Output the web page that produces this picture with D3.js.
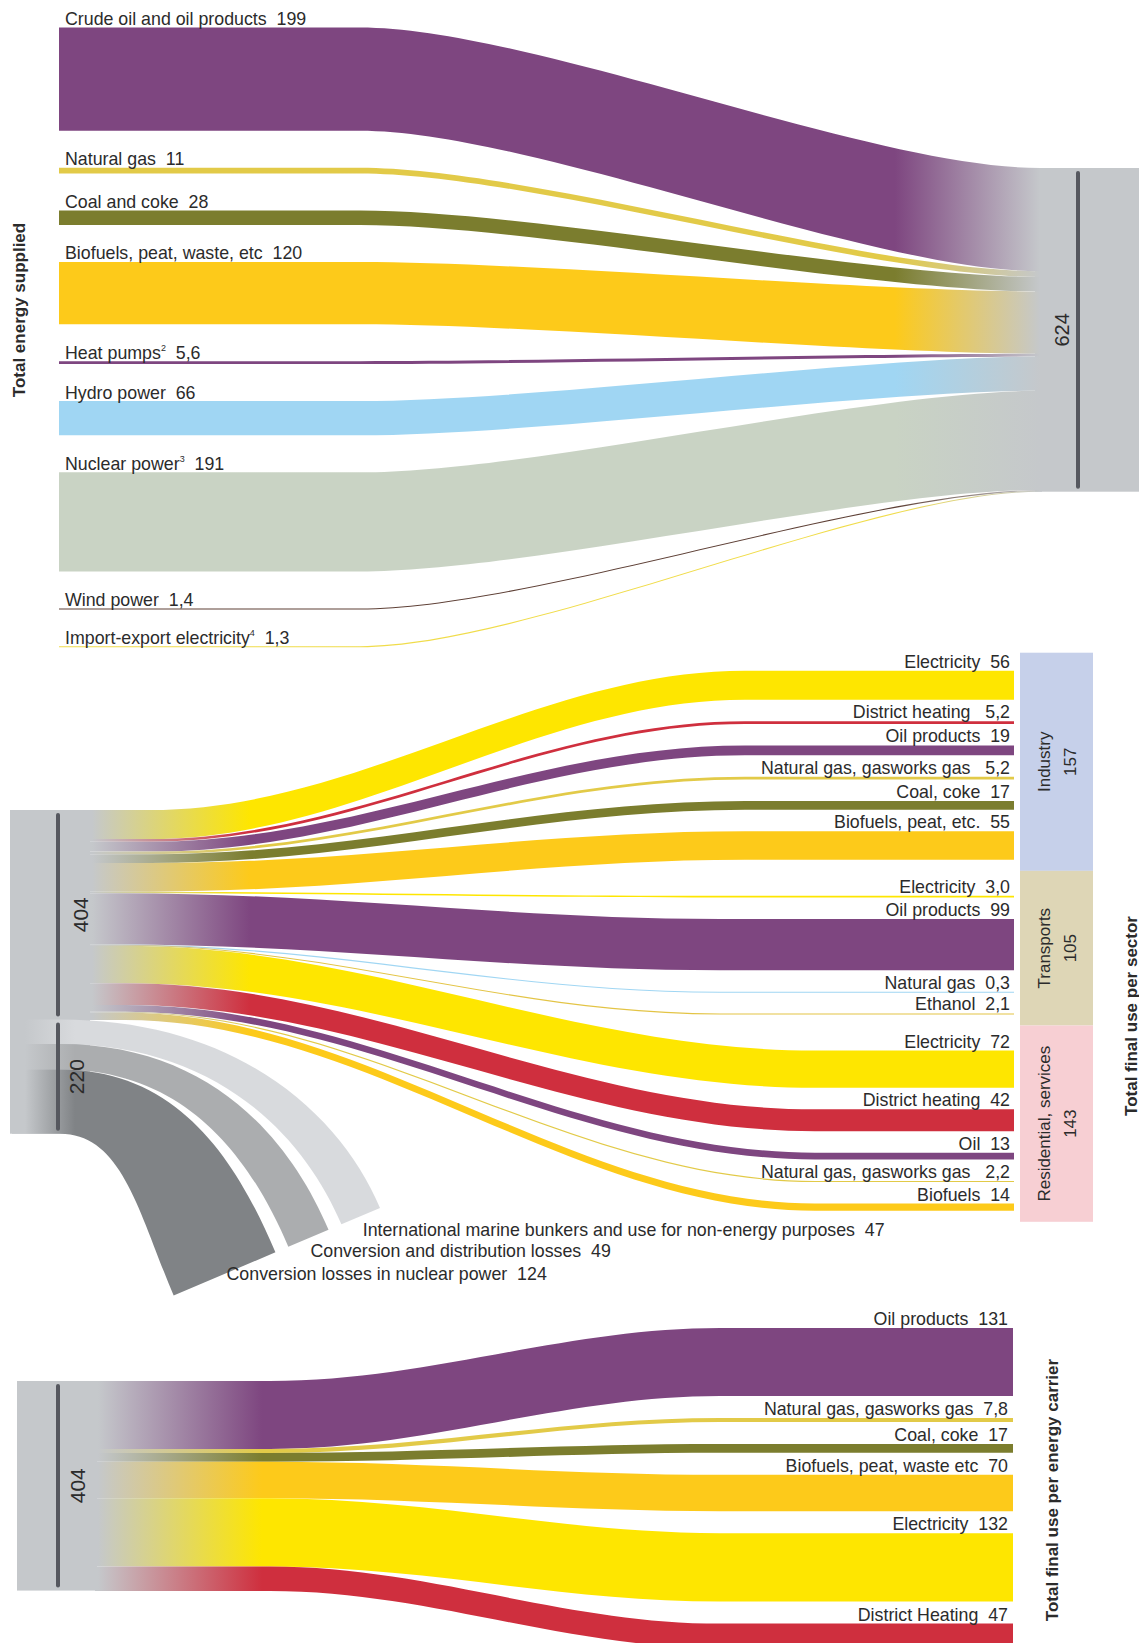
<!DOCTYPE html>
<html><head><meta charset="utf-8">
<script src="https://cdn.jsdelivr.net/npm/d3@7"></script>
<style>
html,body{margin:0;padding:0;background:#fff;}
svg{display:block;font-family:"Liberation Sans",Arial,Helvetica,sans-serif;}
text{fill:#2b2b2b;white-space:pre;}
</style></head><body>
<svg id="chart" width="1139" height="1643"></svg>
<script>
// ---------- DATA (TWh) ----------
const supplyNames  = ["Crude oil and oil products","Natural gas","Coal and coke","Biofuels, peat, waste, etc","Heat pumps","Hydro power","Nuclear power","Wind power","Import-export electricity"];
const supplyNotes  = ["","","","","2","","3","","4"];
const supplyValues = [199, 11, 28, 120, 5.6, 66, 191, 1.4, 1.3];
const totalSupplied = 624;

const sectorNames  = ["Industry","Transports","Residential, services"];
const sectorTotals = [157, 105, 143];
const sectorCarriers = [
  ["Electricity","District heating","Oil products","Natural gas, gasworks gas","Coal, coke","Biofuels, peat, etc."],
  ["Electricity","Oil products","Natural gas","Ethanol"],
  ["Electricity","District heating","Oil","Natural gas, gasworks gas","Biofuels"]
];
const sectorValues = [
  [56, 5.2, 19, 5.2, 17, 55],
  [3.0, 99, 0.3, 2.1],
  [72, 42, 13, 2.2, 14]
];
const finalUse  = 404;
const lossTotal = 220;
const lossNames  = ["International marine bunkers and use for non-energy purposes","Conversion and distribution losses","Conversion losses in nuclear power"];
const lossValues = [47, 49, 124];

const carrierNames  = ["Oil products","Natural gas, gasworks gas","Coal, coke","Biofuels, peat, waste etc","Electricity","District Heating"];
const carrierValues = [131, 7.8, 17, 70, 132, 47];

const axisTitles = ["Total energy supplied","Total final use per sector","Total final use per energy carrier"];

// ---------- STYLES ----------
const C = {oil:"#7e4680", gas:"#e2ca48", coal:"#7b7d2e", bio:"#fdca1a", hydro:"#a0d6f3",
  nuclear:"#c9d3c4", wind:"#5e4036", imp:"#f0dc4a", elec:"#fee600", dh:"#cf2f3e", eth:"#e3c445"};
const supplyColors = [C.oil, C.gas, C.coal, C.bio, C.oil, C.hydro, C.nuclear, C.wind, C.imp];
const sectorColors = [[C.elec, C.dh, C.oil, C.gas, C.coal, C.bio],[C.elec, C.oil, C.hydro, C.eth],[C.elec, C.dh, C.oil, C.gas, C.bio]];
const sectorBoxColors = ["#c6d0ea","#ded6b6","#f7cfd3"];
const lossColors = ["#d8dadd","#abadaf","#808386"];
const carrierColors = [C.oil, C.gas, C.coal, C.bio, C.elec, C.dh];
const GRAY = "#c5c8cb", LINE = "#56585f";

// ---------- SETUP ----------
const svg = d3.select("#chart");
const defs = svg.append("defs");
const k = d3.scaleLinear().domain([0, totalSupplied]).range([0, 323.7]);
const fmt = v => v < 10 ? d3.format(".1f")(v).replace(".", ",") : d3.format("d")(v);
const FS = 17.8, TITLE_FS = 17;

function bandPath(x0, yL, cA, cB, x1, yR, t, c) {
  const w = cB - cA, p = d3.path();
  p.moveTo(x0, yL); p.lineTo(cA, yL);
  p.bezierCurveTo(cA + c*w, yL, cB - c*w, yR, cB, yR);
  p.lineTo(x1, yR); p.lineTo(x1, yR + t); p.lineTo(cB, yR + t);
  p.bezierCurveTo(cB - c*w, yR + t, cA + c*w, yL + t, cA, yL + t);
  p.lineTo(x0, yL + t); p.closePath();
  return p.toString();
}
let gid = 0;
function grad(xa, xb, c1, c2) {
  const id = "g" + (gid++);
  const g = defs.append("linearGradient").attr("id", id).attr("gradientUnits","userSpaceOnUse")
    .attr("x1", xa).attr("x2", xb).attr("y1", 0).attr("y2", 0);
  g.append("stop").attr("offset", 0).attr("stop-color", c1);
  g.append("stop").attr("offset", 1).attr("stop-color", c2);
  return `url(#${id})`;
}
const vis = t => Math.max(t, 1.1);
function vLine(x, y0, y1) {
  svg.append("line").attr("x1", x).attr("x2", x).attr("y1", y0).attr("y2", y1)
    .attr("stroke", LINE).attr("stroke-width", 4).attr("stroke-linecap", "round");
}
function vLabel(x, y, txt, size, bold) {
  svg.append("text").attr("transform", `translate(${x},${y}) rotate(-90)`)
    .attr("text-anchor", "middle").attr("dominant-baseline", "central")
    .attr("font-size", size).attr("font-weight", bold ? "bold" : "normal").text(txt);
}

// ---------- TOP: TOTAL ENERGY SUPPLIED ----------
const topL = {x0: 59, cA: 360, cB: 1040, x1: 1042, y0: 27.5, gap: 37, boxY: 168, boxX: 1035, fadeA: 895, fadeB: 1040};
const supply = supplyNames.map((n, i) => ({name: n, note: supplyNotes[i], v: supplyValues[i], color: supplyColors[i]}));
{
  let yL = topL.y0, yR = topL.boxY;
  supply.forEach(d => { d.t = k(d.v); d.yL = yL; d.yR = yR; yL += d.t + topL.gap; yR += d.t; });
}
svg.append("rect").attr("x", topL.boxX).attr("y", topL.boxY).attr("width", 1139 - topL.boxX)
  .attr("height", k(totalSupplied)).attr("fill", GRAY);
svg.append("g").selectAll("path").data(supply).join("path")
  .attr("d", d => bandPath(topL.x0, d.yL, topL.cA, topL.cB, topL.x1, d.yR, vis(d.t), 0.25))
  .attr("fill", d => grad(topL.fadeA, topL.fadeB, d.color, GRAY));
const tl = svg.append("g").selectAll("text").data(supply).join("text")
  .attr("x", 65).attr("y", d => d.yL - 2.5).attr("font-size", FS);
tl.each(function(d) {
  const s = d3.select(this);
  s.append("tspan").text(d.name);
  if (d.note) {
    s.append("tspan").attr("font-size", 9).attr("dy", -8).text(d.note);
    s.append("tspan").attr("dy", 8).text("  " + fmt(d.v));
  } else s.append("tspan").text("  " + fmt(d.v));
});
vLine(1078, topL.boxY + 5, topL.boxY + k(totalSupplied) - 5);
vLabel(1062, topL.boxY + k(totalSupplied) / 2, String(totalSupplied), 20, false);
vLabel(19, 310, axisTitles[0], TITLE_FS, true);

// ---------- MIDDLE: FINAL USE PER SECTOR ----------
const mid = {boxX: 10, boxW: 80, x0: 86, x1: 1014, yL0: 810, yR0: 670.7, gap: 21.5, groupGap: 36,
  fadeA: 92, fadeB: 250, labelX: 1010, sbX: 1020, sbW: 73,
  curves: [[150, 745], [120, 720], [125, 815]]};
const links = [];
{
  let yL = mid.yL0, yR = mid.yR0;
  sectorValues.forEach((vals, g) => {
    if (g > 0) yR += mid.groupGap - mid.gap;
    vals.forEach((v, j) => {
      const t = k(v);
      links.push({g, name: sectorCarriers[g][j], v, t, yL, yR, color: sectorColors[g][j]});
      yL += t; yR += t + mid.gap;
    });
  });
}
const midBoxH = k(finalUse) + k(lossTotal);
svg.append("rect").attr("x", mid.boxX).attr("y", mid.yL0).attr("width", mid.boxW).attr("height", midBoxH).attr("fill", GRAY);

// sector boxes
const sBoxes = sectorNames.map((n, g) => {
  const ls = links.filter(l => l.g === g);
  return {name: n, total: sectorTotals[g], first: ls[0], last: ls[ls.length - 1], color: sectorBoxColors[g]};
});
sBoxes.forEach((b, g) => {
  b.y0 = g === 0 ? b.first.yR - 18 : sBoxes[g - 1].y1;
  b.y1 = b.last.yR + b.last.t + 11;
});
svg.append("g").selectAll("rect").data(sBoxes).join("rect")
  .attr("x", mid.sbX).attr("y", d => d.y0).attr("width", mid.sbW).attr("height", d => d.y1 - d.y0).attr("fill", d => d.color);
sBoxes.forEach(b => {
  const cy = (b.y0 + b.y1) / 2, cx = mid.sbX + mid.sbW / 2;
  vLabel(cx - 12, cy, b.name, 17, false);
  vLabel(cx + 14, cy, String(b.total), 17, false);
});

// loss arcs
const arc = {x0: 12, xs: 60, cut: [380, 1208], dir: [-0.92, 0.39], trav: [0.39, 0.92], spread: 1.72, gap: 14};
const losses = lossNames.map((n, i) => ({name: n, v: lossValues[i], color: lossColors[i]}));
{
  let y = mid.yL0 + k(finalUse), s = 0;
  losses.forEach(d => {
    d.t = k(d.v); d.y0 = y; d.y1 = y + d.t; y += d.t;
    d.s0 = s; d.s1 = s + arc.spread * d.t; s = d.s1 + arc.gap;
    d.E0 = [arc.cut[0] + d.s0 * arc.dir[0], arc.cut[1] + d.s0 * arc.dir[1]];
    d.E1 = [arc.cut[0] + d.s1 * arc.dir[0], arc.cut[1] + d.s1 * arc.dir[1]];
  });
}
function arcPath(d) {
  const p = d3.path(), xs = arc.xs, T = arc.trav;
  const a0 = 0.55 * (d.E0[0] - xs), b0 = 0.55 * (d.E0[1] - d.y0);
  const a1 = 0.55 * (d.E1[0] - xs), b1 = 0.55 * (d.E1[1] - d.y1);
  p.moveTo(arc.x0, d.y0); p.lineTo(xs, d.y0);
  p.bezierCurveTo(xs + a0, d.y0, d.E0[0] - b0 * T[0], d.E0[1] - b0 * T[1], d.E0[0], d.E0[1]);
  p.lineTo(d.E1[0], d.E1[1]);
  p.bezierCurveTo(d.E1[0] - b1 * T[0], d.E1[1] - b1 * T[1], xs + a1, d.y1, xs, d.y1);
  p.lineTo(arc.x0, d.y1); p.closePath();
  return p.toString();
}
svg.append("g").selectAll("path").data(losses).join("path")
  .attr("d", arcPath).attr("fill", d => grad(25, 75, GRAY, d.color));
svg.append("g").selectAll("text").data(losses).join("text")
  .attr("x", d => (d.E0[0] + d.E1[0]) / 2 + 2).attr("y", d => d.E0[1] + 27.5)
  .attr("font-size", FS).text(d => d.name + "  " + fmt(d.v));

// sector links
svg.append("g").selectAll("path").data(links).join("path")
  .attr("d", d => bandPath(mid.x0, d.yL, mid.curves[d.g][0], mid.curves[d.g][1], mid.x1, d.yR, vis(d.t), 0.35))
  .attr("fill", d => grad(mid.fadeA, mid.fadeB, GRAY, d.color));
svg.append("g").selectAll("text").data(links).join("text")
  .attr("x", mid.labelX).attr("y", d => d.yR - 3).attr("text-anchor", "end")
  .attr("font-size", FS).text(d => d.name + (d.v < 10 && d.name.length > 12 ? "   " : "  ") + fmt(d.v));

vLine(58, mid.yL0 + 5, mid.yL0 + k(finalUse) - 5);
vLine(58, mid.yL0 + k(finalUse) + 5, mid.yL0 + midBoxH - 5);
vLabel(80, mid.yL0 + k(finalUse) / 2, String(finalUse), 21, false);
vLabel(76, mid.yL0 + k(finalUse) + k(lossTotal) / 2, String(lossTotal), 21, false);
vLabel(1131, 1016, axisTitles[1], TITLE_FS, true);

// ---------- BOTTOM: FINAL USE PER ENERGY CARRIER ----------
const bot = {boxX: 17, boxW: 80, x0: 95, x1: 1013, yL0: 1381, yR0: 1328, gap: 22, cA: 270, cB: 720,
  fadeA: 98, fadeB: 262, labelX: 1008};
const carriers = carrierNames.map((n, i) => ({name: n, v: carrierValues[i], color: carrierColors[i]}));
{
  let yL = bot.yL0, yR = bot.yR0;
  carriers.forEach(d => { d.t = k(d.v); d.yL = yL; d.yR = yR; yL += d.t; yR += d.t + bot.gap; });
}
svg.append("rect").attr("x", bot.boxX).attr("y", bot.yL0).attr("width", bot.boxW).attr("height", k(finalUse)).attr("fill", GRAY);
svg.append("g").selectAll("path").data(carriers).join("path")
  .attr("d", d => bandPath(bot.x0, d.yL, bot.cA, bot.cB, bot.x1, d.yR, vis(d.t), 0.35))
  .attr("fill", d => grad(bot.fadeA, bot.fadeB, GRAY, d.color));
svg.append("g").selectAll("text").data(carriers).join("text")
  .attr("x", bot.labelX).attr("y", d => d.yR - 3).attr("text-anchor", "end")
  .attr("font-size", FS).text(d => d.name + "  " + fmt(d.v));
vLine(58, bot.yL0 + 5, bot.yL0 + k(finalUse) - 5);
vLabel(77, bot.yL0 + k(finalUse) / 2, String(finalUse), 21, false);
vLabel(1052, 1490, axisTitles[2], TITLE_FS, true);
</script>
</body></html>
